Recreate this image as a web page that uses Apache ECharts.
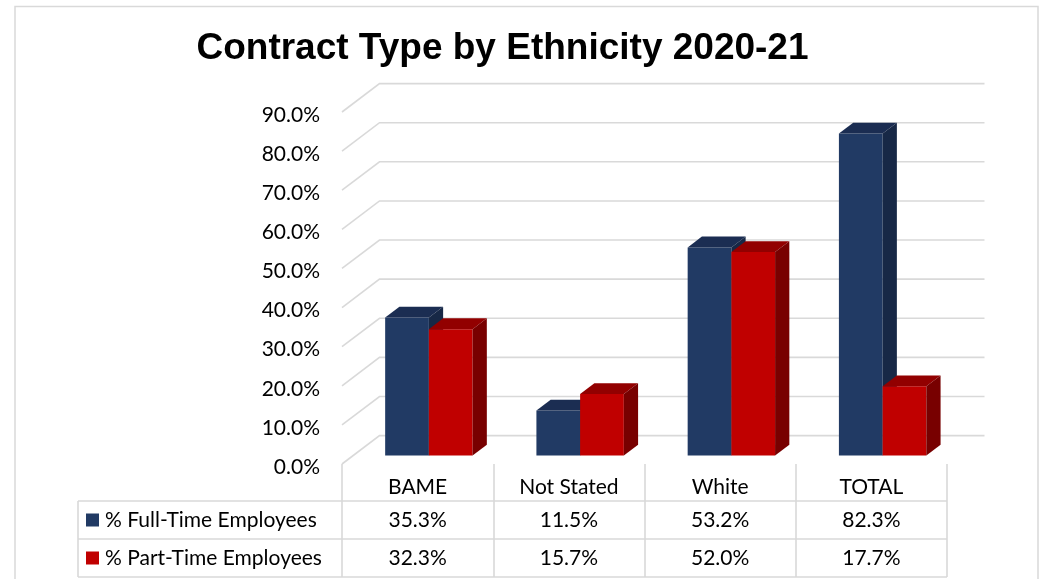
<!DOCTYPE html>
<html>
<head>
<meta charset="utf-8">
<title>Contract Type by Ethnicity 2020-21</title>
<script src="https://cdn.jsdelivr.net/npm/echarts@6/dist/echarts.min.js"></script>
<style>
  html, body { margin: 0; padding: 0; background: #ffffff; }
  #chart { width: 1047px; height: 579px; }
</style>
</head>
<body>
<div id="chart"></div>
<script>
// ---- data ----
const categories = ['BAME', 'Not Stated', 'White', 'TOTAL'];
const fullTime = [35.3, 11.5, 53.2, 82.3];
const partTime = [32.3, 15.7, 52.0, 17.7];
const seriesNames = ['% Full-Time Employees', '% Part-Time Employees'];
const yTicks = [0, 10, 20, 30, 40, 50, 60, 70, 80, 90];

// ---- layout / style ----
const FONT = 'Lato';
const TEXT_SIZE = 21;
const W = 1047, H = 579;
const GRID = { left: 342, right: 100, top: 112, bottom: 115 };
const AXIS_Y = H - GRID.bottom;          // front floor line
const GRID_RIGHT_X = W - GRID.right;
// back wall offset in screen space (oblique projection)
const WALL_DX = 37.5, WALL_DY = -28.4;
// bars occupy this slice of the floor depth
const BAR_Z0 = 0.3, BAR_DEPTH = 0.38;
const BAR_FRAC = 0.289;                   // bar width as a share of the category band
const GRID_COLOR = '#d9d9d9';

// table rows under the plot
const TABLE_LEFT = 78;
const ROW_LINES = [501, 539, 577];
const ROW_CENTERS = [520, 558];

const palette = [
  { front: '#213a64', top: '#1b2d52', side: '#172846' },
  { front: '#c00000', top: '#920000', side: '#780000' }
];

// one 3D column: front face, top face and right side face
function barRenderer(k) {
  return function (params, api) {
    const cat = api.value(0);
    const v = api.value(1);
    const base = api.coord([cat, 0]);
    const top = api.coord([cat, v]);
    const band = params.coordSys.width / categories.length;
    const bw = band * BAR_FRAC;
    const ox = WALL_DX * BAR_Z0, oy = WALL_DY * BAR_Z0;
    const dx = WALL_DX * BAR_DEPTH, dy = WALL_DY * BAR_DEPTH;
    const x0 = base[0] + ox + (k - 1) * bw;
    const x1 = x0 + bw;
    const yb = base[1] + oy;
    const yt = top[1] + oy;
    return {
      type: 'group',
      children: [
        { type: 'polygon', shape: { points: [[x0, yb], [x1, yb], [x1, yt], [x0, yt]] },
          style: { fill: palette[k].front } },
        { type: 'polygon', shape: { points: [[x0, yt], [x1, yt], [x1 + dx, yt + dy], [x0 + dx, yt + dy]] },
          style: { fill: palette[k].top } },
        { type: 'polygon', shape: { points: [[x1, yb], [x1 + dx, yb + dy], [x1 + dx, yt + dy], [x1, yt]] },
          style: { fill: palette[k].side } }
      ]
    };
  };
}

// gridlines: a short diagonal on the side wall, then across the back wall
function gridRenderer(params, api) {
  const cs = params.coordSys;
  const y = api.coord([0, api.value(1)])[1];
  const x = cs.x;
  return {
    type: 'polyline',
    shape: { points: [[x, y], [x + WALL_DX, y + WALL_DY], [x + cs.width + WALL_DX, y + WALL_DY]] },
    style: { stroke: GRID_COLOR, lineWidth: 1.6, fill: null }
  };
}

// value cells of the data table
function cellRenderer(row) {
  return function (params, api) {
    const x = api.coord([api.value(0), 0])[0];
    return {
      type: 'text',
      x: x,
      y: ROW_CENTERS[row],
      style: {
        text: api.value(1).toFixed(1) + '%',
        fontFamily: FONT, fontSize: TEXT_SIZE, fill: '#000000',
        align: 'center', verticalAlign: 'middle'
      }
    };
  };
}

const pairs = (arr) => arr.map((v, i) => [i, v]);

const graphics = [
  { type: 'rect', shape: { x: 15, y: 6.5, width: 1023, height: 640 },
    style: { fill: null, stroke: GRID_COLOR, lineWidth: 1.5 }, z: 0 },
  { type: 'text', x: 502.5, y: 49,
    style: { text: 'Contract Type by Ethnicity 2020-21', fontFamily: 'Liberation Sans', fontWeight: 'bold',
             fontSize: 37, fill: '#000000', align: 'center', verticalAlign: 'middle' } },
  { type: 'line', shape: { x1: TABLE_LEFT, y1: ROW_LINES[0], x2: TABLE_LEFT, y2: ROW_LINES[2] },
    style: { stroke: GRID_COLOR, lineWidth: 1.6 } }
];
ROW_LINES.forEach(y => graphics.push({
  type: 'line', shape: { x1: TABLE_LEFT, y1: y, x2: GRID_RIGHT_X, y2: y },
  style: { stroke: GRID_COLOR, lineWidth: 1.6 }
}));
seriesNames.forEach((name, k) => {
  graphics.push({ type: 'rect', shape: { x: 86, y: ROW_CENTERS[k] - 6.5, width: 13, height: 13 },
    style: { fill: palette[k].front } });
  graphics.push({ type: 'text', x: 105, y: ROW_CENTERS[k],
    style: { text: name, fontFamily: FONT, fontSize: TEXT_SIZE, fill: '#000000', verticalAlign: 'middle' } });
});

const chart = echarts.init(document.getElementById('chart'), null, { renderer: 'canvas' });
chart.setOption({
  animation: false,
  backgroundColor: '#ffffff',
  grid: GRID,
  xAxis: {
    type: 'category',
    data: categories,
    boundaryGap: true,
    axisLine: { show: false },
    axisTick: { show: true, length: ROW_LINES[2] - AXIS_Y, lineStyle: { color: GRID_COLOR, width: 1.6 } },
    axisLabel: { margin: 23, verticalAlign: 'middle', fontFamily: FONT, fontSize: TEXT_SIZE, color: '#000000' },
    splitLine: { show: false }
  },
  yAxis: {
    type: 'value',
    min: 0, max: 90, interval: 10,
    axisLine: { show: false },
    axisTick: { show: false },
    splitLine: { show: false },
    axisLabel: {
      margin: 22,
      formatter: v => '{t|' + v.toFixed(1) + '%}',
      rich: {
        t: { fontFamily: FONT, fontSize: TEXT_SIZE, color: '#000000', padding: [6, 0, 0, 0] }
      }
    }
  },
  graphic: graphics,
  series: [
    { type: 'custom', name: 'grid', silent: true, clip: false, z: 1,
      data: pairs(yTicks), renderItem: gridRenderer },
    { type: 'custom', name: seriesNames[0], clip: false, z: 3,
      data: pairs(fullTime), renderItem: barRenderer(0) },
    { type: 'custom', name: seriesNames[1], clip: false, z: 3,
      data: pairs(partTime), renderItem: barRenderer(1) },
    { type: 'custom', name: seriesNames[0] + ' table', silent: true, clip: false, z: 3,
      data: pairs(fullTime), renderItem: cellRenderer(0) },
    { type: 'custom', name: seriesNames[1] + ' table', silent: true, clip: false, z: 3,
      data: pairs(partTime), renderItem: cellRenderer(1) }
  ]
});
</script>
</body>
</html>
